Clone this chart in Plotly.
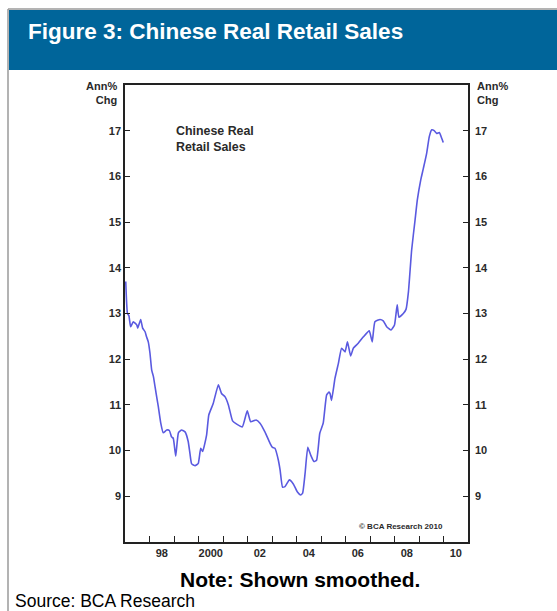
import plotly.graph_objects as go

# ---- data ----
years = [1997.03, 1997.10, 1997.16, 1997.23, 1997.34, 1997.48, 1997.52, 1997.64, 1997.72, 1997.82,
         1997.88, 1997.95, 1998.02, 1998.09, 1998.16, 1998.27, 1998.36, 1998.46, 1998.56, 1998.70,
         1998.81, 1998.90, 1998.97, 1999.07, 1999.18, 1999.31, 1999.45, 1999.58, 1999.65, 1999.72,
         1999.86, 1999.99, 2000.09, 2000.17, 2000.33, 2000.42, 2000.60, 2000.81, 2000.94, 2001.08,
         2001.22, 2001.39, 2001.56, 2001.79, 2001.99, 2002.13, 2002.35, 2002.51, 2002.71, 2002.92,
         2003.02, 2003.12, 2003.26, 2003.33, 2003.43, 2003.53, 2003.71, 2003.87, 2004.03, 2004.17,
         2004.25, 2004.35, 2004.46, 2004.58, 2004.71, 2004.82, 2004.95, 2005.09, 2005.23, 2005.33,
         2005.37, 2005.43, 2005.57, 2005.71, 2005.84, 2005.98, 2006.08, 2006.21, 2006.32, 2006.52,
         2006.73, 2006.97, 2007.09, 2007.20, 2007.41, 2007.54, 2007.68, 2007.86, 2008.00, 2008.11,
         2008.18, 2008.36, 2008.47, 2008.57, 2008.70, 2008.84, 2008.93, 2009.07, 2009.18, 2009.31,
         2009.42, 2009.52, 2009.62, 2009.72, 2009.83, 2009.93, 2009.99]
retail_sales = [13.70, 13.00, 12.95, 12.71, 12.82, 12.75, 12.68, 12.87, 12.68, 12.60,
                12.49, 12.38, 12.13, 11.76, 11.62, 11.25, 10.96, 10.60, 10.39, 10.45,
                10.44, 10.30, 10.27, 9.88, 10.39, 10.45, 10.41, 10.20, 9.94, 9.71,
                9.67, 9.72, 10.05, 9.98, 10.34, 10.78, 11.03, 11.44, 11.25, 11.18,
                11.00, 10.65, 10.58, 10.52, 10.87, 10.63, 10.67, 10.60, 10.41, 10.16,
                10.07, 10.05, 9.79, 9.58, 9.20, 9.21, 9.36, 9.27, 9.10, 9.03,
                9.07, 9.50, 10.07, 9.90, 9.76, 9.79, 10.38, 10.60, 11.22, 11.28,
                11.25, 11.10, 11.58, 11.91, 12.24, 12.16, 12.38, 12.07, 12.24, 12.35,
                12.49, 12.62, 12.38, 12.82, 12.87, 12.84, 12.71, 12.64, 12.75, 13.19,
                12.92, 13.00, 13.09, 13.48, 14.39, 15.05, 15.48, 15.92, 16.18, 16.50,
                16.87, 17.02, 17.00, 16.94, 16.96, 16.83, 16.74]

x_tick_positions = [1998.5, 2000.5, 2002.5, 2004.5, 2006.5, 2008.5, 2010.5]
x_tick_labels = ["98", "2000", "02", "04", "06", "08", "10"]
year_marks = list(range(1998, 2011))
y_ticks = list(range(9, 18))

# ---- layout geometry (pixels) ----
W, H = 557, 611
L, R, T, B = 125, 468, 85, 542

def px(x):
    return (x - L) / (R - L)

def py(y):
    return (B - y) / (B - T)

FONT = "Liberation Sans, Arial, sans-serif"
DARK = "#2a2a2a"

fig = go.Figure()
fig.add_trace(go.Scatter(x=years, y=retail_sales, mode="lines",
                         line=dict(color="#5a5ae0", width=1.6, shape="spline", smoothing=0.4),
                         hoverinfo="x+y", showlegend=False))
fig.add_trace(go.Scatter(x=[years[0]], y=[retail_sales[0]], yaxis="y2", mode="lines",
                         line=dict(width=0), showlegend=False, hoverinfo="skip"))

fig.update_layout(
    width=W, height=H,
    margin=dict(l=L, r=W - R, t=T, b=H - B),
    paper_bgcolor="white", plot_bgcolor="white",
    font=dict(family=FONT, color=DARK),
    xaxis=dict(range=[1997, 2011], showgrid=False, zeroline=False,
               showline=True, linecolor="#222", linewidth=1.5, mirror=True,
               tickmode="array", tickvals=x_tick_positions, ticktext=x_tick_labels,
               ticks="", tickfont=dict(size=11, family=FONT, color=DARK, weight="bold"),
               minor=dict(tickmode="array", tickvals=year_marks, ticks="inside",
                          ticklen=6, tickwidth=1.2, tickcolor="#222", showgrid=False)),
    yaxis=dict(range=[8, 18], showgrid=False, zeroline=False,
               showline=True, linecolor="#222", linewidth=1.5, mirror=True,
               tickmode="array", tickvals=y_ticks, ticks="inside", ticklen=5,
               tickwidth=1.2, tickcolor="#222",
               tickfont=dict(size=11, family=FONT, color=DARK, weight="bold")),
    yaxis2=dict(range=[8, 18], overlaying="y", side="right", showgrid=False, zeroline=False,
                tickmode="array", tickvals=y_ticks, ticks="inside", ticklen=5,
                tickwidth=1.2, tickcolor="#222", ticklabelstandoff=6,
                tickfont=dict(size=11, family=FONT, color=DARK, weight="bold")),
)

shapes = [
    # outer grey frame (left and top)
    dict(type="line", xref="paper", yref="paper", x0=px(8), x1=px(8), y0=py(9), y1=py(611),
         line=dict(color="#9a9a9a", width=1.5)),
    dict(type="line", xref="paper", yref="paper", x0=px(8), x1=px(557), y0=py(9), y1=py(9),
         line=dict(color="#9a9a9a", width=1.5)),
    # blue title band
    dict(type="rect", xref="paper", yref="paper", x0=px(9), x1=px(558), y0=py(10), y1=py(70),
         fillcolor="#00659a", line=dict(width=0), layer="below"),
]
fig.update_layout(shapes=shapes)

ann = [
    dict(text="Figure 3: Chinese Real Retail Sales", x=px(26), y=py(32), xanchor="left", yanchor="middle",
         font=dict(size=22.5, color="white", family=FONT, weight="bold")),
    dict(text="Ann%<br>Chg", x=px(119), y=py(93), xanchor="right", yanchor="middle", align="right",
         font=dict(size=11, color=DARK, family=FONT, weight="bold")),
    dict(text="Ann%<br>Chg", x=px(475), y=py(93), xanchor="left", yanchor="middle", align="left",
         font=dict(size=11, color=DARK, family=FONT, weight="bold")),
    dict(text="Chinese Real<br>Retail Sales", x=px(174), y=py(139), xanchor="left", yanchor="middle",
         align="left", font=dict(size=12.4, color=DARK, family=FONT, weight="bold")),
    dict(text="© BCA Research 2010", x=px(445), y=py(526), xanchor="right", yanchor="middle",
         font=dict(size=8, color=DARK, family=FONT, weight="bold")),
    dict(text="Note: Shown smoothed.", x=px(300), y=py(579), xanchor="center", yanchor="middle",
         font=dict(size=21, color="black", family=FONT, weight="bold")),
    dict(text="Source: BCA Research", x=px(13), y=py(601), xanchor="left", yanchor="middle",
         font=dict(size=17.5, color="black", family=FONT)),
]
for a in ann:
    a.update(xref="paper", yref="paper", showarrow=False)
fig.update_layout(annotations=ann)

fig.write_html("out.html", config={"displayModeBar": False},
               post_script="document.body.style.margin='0';document.body.style.overflow='hidden';")
